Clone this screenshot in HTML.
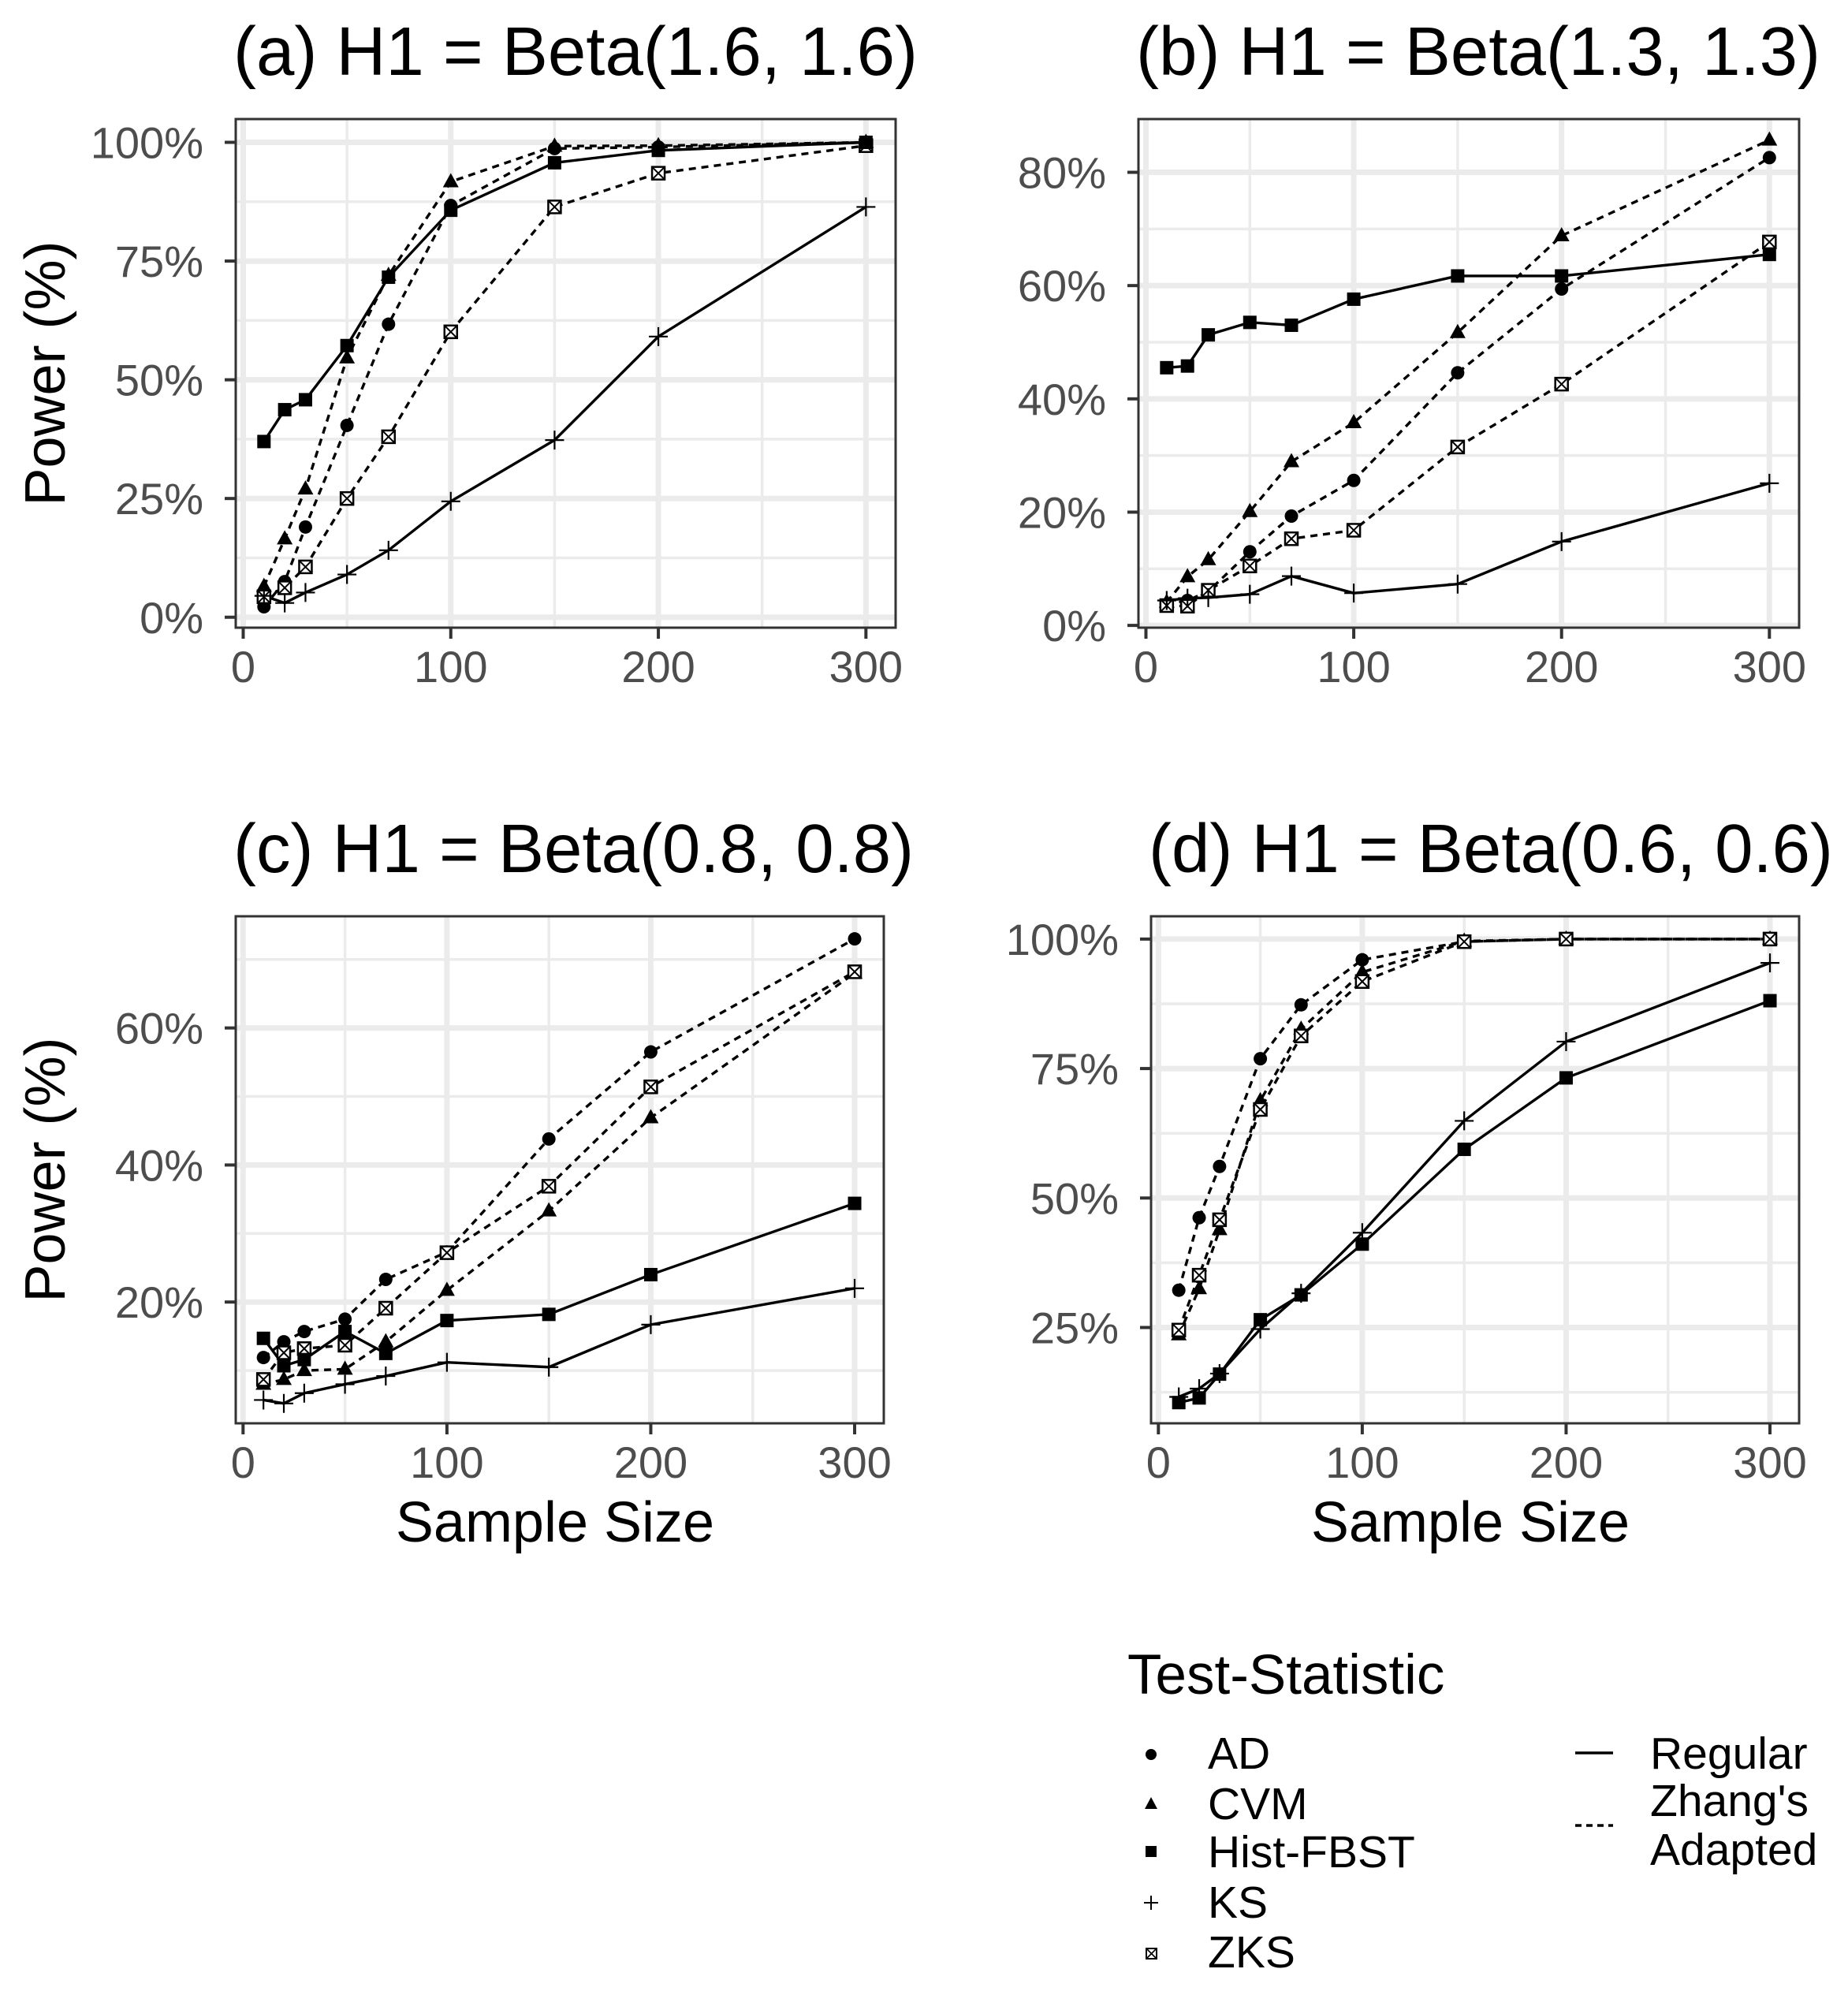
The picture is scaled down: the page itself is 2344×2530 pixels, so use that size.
<!DOCTYPE html>
<html><head><meta charset="utf-8">
<style>
html,body{margin:0;padding:0;background:#fff;}
svg{display:block;font-family:"Liberation Sans",Arial,sans-serif;}
</style></head>
<body>
<svg id="fig" width="2344" height="2530" viewBox="0 0 2344 2530" xmlns="http://www.w3.org/2000/svg">
<rect x="0" y="0" width="2344" height="2530" fill="#fff"/>
<g id="legend">
  <text x="1430" y="2148" font-size="71" fill="#000">Test-Statistic</text>
  <circle cx="1460" cy="2225" r="7" fill="#000"/>
  <text x="1532" y="2243" font-size="57">AD</text>
  <polygon points="1460,2279 1468,2294 1452,2294" fill="#000"/>
  <text x="1532" y="2307" font-size="57">CVM</text>
  <rect x="1453" y="2341" width="14" height="14" fill="#000"/>
  <text x="1532" y="2368" font-size="57">Hist-FBST</text>
  <path d="M1451,2413 h18 M1460,2404 v18" stroke="#000" stroke-width="2"/>
  <text x="1532" y="2432" font-size="57">KS</text>
  <g><rect x="1454" y="2471" width="13" height="13" fill="none" stroke="#000" stroke-width="2"/><path d="M1454,2471 l13,13 M1467,2471 l-13,13" stroke="#000" stroke-width="1.6"/></g>
  <text x="1532" y="2495" font-size="57">ZKS</text>
  <line x1="1998" y1="2223" x2="2046" y2="2223" stroke="#000" stroke-width="3.5"/>
  <line x1="1998" y1="2315" x2="2046" y2="2315" stroke="#000" stroke-width="3.5" stroke-dasharray="8,6"/>
  <text x="2093" y="2243" font-size="57">Regular</text>
  <text x="2093" y="2303" font-size="57">Zhang's</text>
  <text x="2093" y="2365" font-size="57">Adapted</text>
</g>
</svg>
<script>
const sampleSizes = [10, 20, 30, 50, 70, 100, 150, 200, 300];
const seriesNames = ["Hist-FBST", "KS", "AD", "CVM", "ZKS"];
const markerOrder = [2, 3, 4, 1, 0];
const xTicks = [0, 100, 200, 300];
const xMinor = [50, 150, 250];

const panelTitles = ["(a) H1 = Beta(1.6, 1.6)", "(b) H1 = Beta(1.3, 1.3)", "(c) H1 = Beta(0.8, 0.8)", "(d) H1 = Beta(0.6, 0.6)"];

const aHist = [37, 43.7, 45.8, 57.2, 71.6, 85.7, 95.7, 98.3, 100];
const aKS   = [4.5, 3, 5.2, 9, 14.1, 24.4, 37.3, 59.1, 86.4];
const aAD   = [2.2, 7.5, 19, 40.4, 61.7, 86.7, 98.7, 99, 100];
const aCVM  = [6.5, 16.5, 27, 54.6, 72, 91.7, 99.2, 99.3, 100];
const aZKS  = [4.3, 6.2, 10.6, 25, 38, 60.1, 86.4, 93.5, 99.3];

const bHist = [45.5, 45.8, 51.3, 53.5, 53, 57.6, 61.7, 61.7, 65.5];
const bKS   = [4.4, 4.8, 4.9, 5.5, 8.7, 5.7, 7.3, 14.8, 25.1];
const bAD   = [3.7, 4.4, 6, 13, 19.3, 25.6, 44.6, 59.4, 82.6];
const bCVM  = [4.1, 8.6, 11.6, 20.1, 28.9, 35.8, 51.7, 68.8, 85.7];
const bZKS  = [3.5, 3.4, 6.2, 10.5, 15.3, 16.8, 31.5, 42.6, 67.7];

const cHist = [14.7, 10.7, 11.6, 15.7, 12.5, 17.3, 18.2, 24, 34.4];
const cKS   = [5.7, 5.2, 6.7, 8, 9.2, 11.2, 10.5, 16.7, 22];
const cAD   = [11.9, 14.2, 15.7, 17.5, 23.3, 27.3, 43.8, 56.5, 73];
const cCVM  = [8, 8.7, 10, 10.2, 14.2, 21.7, 33.3, 46.9, 68];
const cZKS  = [8.7, 12.6, 13.2, 13.7, 19.1, 27.2, 36.9, 51.4, 68.2];

const dHist = [10.5, 11.4, 16, 26.5, 31.3, 41.1, 59.4, 73.2, 88.1];
const dKS   = [11.6, 13.2, 16.1, 24.7, 31.6, 43.3, 64.9, 80.2, 95.4];
const dAD   = [32.2, 46.2, 56.1, 76.9, 87.3, 96, 99.5, 100, 100];
const dCVM  = [23.6, 32.5, 43.9, 68.8, 82.6, 93.6, 99.6, 100, 100];
const dZKS  = [24.5, 35.1, 45.8, 67.1, 81.3, 91.8, 99.5, 100, 100];

const aYTicks = [0, 25, 50, 75, 100];
const bYTicks = [0, 20, 40, 60, 80];
const cYTicks = [20, 40, 60];
const dYTicks = [25, 50, 75, 100];
const aYMinor = [12.5, 37.5, 62.5, 87.5];
const bYMinor = [10, 30, 50, 70];
const cYMinor = [10, 30, 50, 70];
const dYMinor = [12.5, 37.5, 62.5, 87.5];

const NS = "http://www.w3.org/2000/svg";
const svg = document.getElementById("fig");
function mk(tag, attrs, parent) {
  const e = document.createElementNS(NS, tag);
  for (const k in attrs) e.setAttribute(k, attrs[k]);
  (parent || svg).appendChild(e);
  return e;
}

const panels = [
  {id:"a", box:[299,1136,151,796], yd:[-2.2,104.9], yt:aYTicks, ym:aYMinor, data:[aHist,aKS,aAD,aCVM,aZKS], yTitle:true, xTitle:false, tb:95},
  {id:"b", box:[1444,2282,151,796], yd:[-0.4,89.4], yt:bYTicks, ym:bYMinor, data:[bHist,bKS,bAD,bCVM,bZKS], yTitle:false, xTitle:false, tb:95},
  {id:"c", box:[299,1121,1162,1805], yd:[2.3,76.3], yt:cYTicks, ym:cYMinor, data:[cHist,cKS,cAD,cCVM,cZKS], yTitle:true, xTitle:true, tb:1106},
  {id:"d", box:[1460,2282,1162,1805], yd:[6.5,104.4], yt:dYTicks, ym:dYMinor, data:[dHist,dKS,dAD,dCVM,dZKS], yTitle:false, xTitle:true, tb:1106}
];
const xd = [-3.6, 314.3];

function drawMarker(g, name, x, y) {
  let m;
  if (name === "AD") { m = mk("circle", {cx:x, cy:y, r:8.5, fill:"#000"}, g); }
  else if (name === "CVM") { m = mk("polygon", {points:`${x},${y-11} ${x+10},${y+7} ${x-10},${y+7}`, fill:"#000"}, g); }
  else if (name === "Hist-FBST") { m = mk("rect", {x:x-8.5, y:y-8.5, width:17, height:17, fill:"#000"}, g); }
  else if (name === "KS") { m = mk("path", {d:`M${x-12},${y} h24 M${x},${y-12} v24`, stroke:"#000", "stroke-width":2.2, fill:"none"}, g); }
  else {
    m = mk("g", {}, g);
    mk("rect", {x:x-8, y:y-8, width:16, height:16, fill:"#fff", stroke:"#000", "stroke-width":2.5}, m);
    mk("path", {d:`M${x-8},${y-8} L${x+8},${y+8} M${x+8},${y-8} L${x-8},${y+8}`, stroke:"#000", "stroke-width":2}, m);
  }
  
  
}

panels.forEach((p, pi) => {
  const [L, R, T, B] = p.box;
  const sx = v => L + (v - xd[0]) / (xd[1] - xd[0]) * (R - L);
  const sy = v => B - (v - p.yd[0]) / (p.yd[1] - p.yd[0]) * (B - T);
  const g = mk("g", {});
  
  

  const t = mk("text", {x:L-3, y:p.tb, "font-size":87, fill:"#000"}, g);
  t.textContent = panelTitles[pi];
  
  

  const grid = mk("g", {}, g);
  
  
  p.ym.forEach(v => mk("line", {x1:L, x2:R, y1:sy(v), y2:sy(v), stroke:"#ebebeb", "stroke-width":3.5}, grid));
  xMinor.forEach(v => mk("line", {y1:T, y2:B, x1:sx(v), x2:sx(v), stroke:"#ebebeb", "stroke-width":3.5}, grid));
  p.yt.forEach(v => mk("line", {x1:L, x2:R, y1:sy(v), y2:sy(v), stroke:"#ebebeb", "stroke-width":7}, grid));
  xTicks.forEach(v => mk("line", {y1:T, y2:B, x1:sx(v), x2:sx(v), stroke:"#ebebeb", "stroke-width":7}, grid));

  seriesNames.forEach((name, si) => {
    const vals = p.data[si];
    const dashed = (name === "AD" || name === "CVM" || name === "ZKS");
    const pts = vals.map((v, i) => sx(sampleSizes[i]) + "," + sy(v)).join(" ");
    const line = mk("polyline", {points:pts, fill:"none", stroke:"#000", "stroke-width":3.4, "stroke-linejoin":"round"}, g);
    if (dashed) line.setAttribute("stroke-dasharray", "9,7");
    
    
  });
  markerOrder.forEach(si => {
    const name = seriesNames[si];
    const vals = p.data[si];
    const mg = mk("g", {}, g);
    
    
    vals.forEach((v, i) => drawMarker(mg, name, sx(sampleSizes[i]), sy(v)));
  });

  const border = mk("rect", {x:L, y:T, width:R-L, height:B-T, fill:"none", stroke:"#333", "stroke-width":3}, g);
  
  

  p.yt.forEach(v => {
    mk("line", {x1:L-14, x2:L, y1:sy(v), y2:sy(v), stroke:"#333", "stroke-width":4}, g);
    const tl = mk("text", {x:L-41, y:sy(v)+20, "font-size":56, fill:"#4d4d4d", "text-anchor":"end"}, g);
    tl.textContent = v + "%";
    
    
  });
  xTicks.forEach(v => {
    mk("line", {x1:sx(v), x2:sx(v), y1:B, y2:B+14, stroke:"#333", "stroke-width":4}, g);
    const tl = mk("text", {x:sx(v), y:B+69, "font-size":56, fill:"#4d4d4d", "text-anchor":"middle"}, g);
    tl.textContent = v;
    
    
  });
  if (p.yTitle) {
    const cy = (T + B) / 2;
    const yt = mk("text", {x:0, y:0, "font-size":72, fill:"#000", "text-anchor":"middle", transform:`translate(82,${cy}) rotate(-90)`}, g);
    yt.textContent = "Power (%)";
    
    
  }
  if (p.xTitle) {
    const xt = mk("text", {x:(L+R)/2 - 6, y:1955, "font-size":72, fill:"#000", "text-anchor":"middle"}, g);
    xt.textContent = "Sample Size";
    
    
  }
});
</script>
</body></html>
